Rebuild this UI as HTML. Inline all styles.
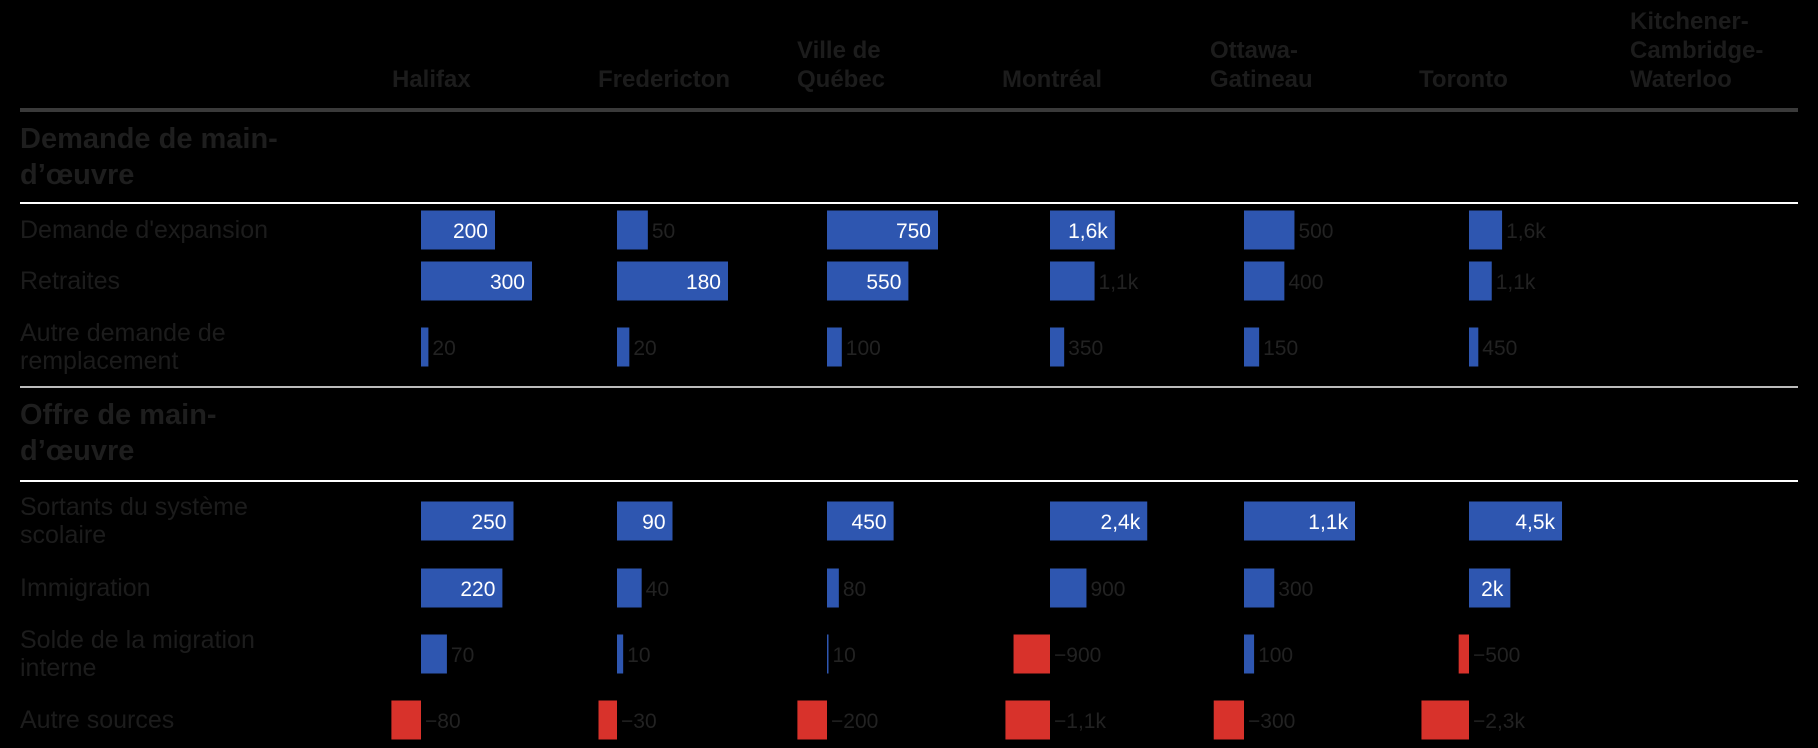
<!DOCTYPE html>
<html><head><meta charset="utf-8"><style>
html,body{margin:0;padding:0;background:#000;}
svg{display:block;font-family:"Liberation Sans Narrow","Liberation Sans",sans-serif;}
</style></head><body>
<svg id="chart" width="1818" height="748" viewBox="0 0 1818 748" xmlns="http://www.w3.org/2000/svg">
<rect width="1818" height="748" fill="#000"/>
</svg>
<script>
const cities = ["Halifax","Fredericton","Ville de|Québec","Montréal","Ottawa-|Gatineau","Toronto","Kitchener-|Cambridge-|Waterloo"];
const rowLabels = ["Demande d'expansion","Retraites","Autre demande de|remplacement","Sortants du système|scolaire","Immigration","Solde de la migration|interne","Autre sources"];
const halifaxValues = [200,300,20,250,220,70,-80];
const frederictonValues = [50,180,20,90,40,10,-30];
const quebecValues = [750,550,100,450,80,10,-200];
const montrealValues = [1600,1100,350,2400,900,-900,-1100];
const ottawaValues = [500,400,150,1100,300,100,-300];
const torontoValues = [1600,1100,450,4500,2000,-500,-2300];
const halifaxLabels = ["200","300","20","250","220","70","−80"];
const frederictonLabels = ["50","180","20","90","40","10","−30"];
const quebecLabels = ["750","550","100","450","80","10","−200"];
const montrealLabels = ["1,6k","1,1k","350","2,4k","900","−900","−1,1k"];
const ottawaLabels = ["500","400","150","1,1k","300","100","−300"];
const torontoLabels = ["1,6k","1,1k","450","4,5k","2k","−500","−2,3k"];
const domainMax = [300,180,750,2740,1100,5370];

const svg = document.getElementById('chart');
const NS = "http://www.w3.org/2000/svg";
function mk(tag, attrs){const e=document.createElementNS(NS,tag);for(const k in attrs)e.setAttribute(k,attrs[k]);svg.appendChild(e);return e;}

const headerX = [392,598,797,1002,1210,1419,1630];
const zeroX = [421,617,827,1050,1244,1469];
const rowY = [230,281,347,521,588,654,720];
const BAR_W = 111, BAR_H = 39;
function xScale(col, v){return v/domainMax[col]*BAR_W;}

cities.forEach((c,i)=>{
  const lines=c.split('|');
  const t=mk('text',{x:headerX[i],y:87-(lines.length-1)*29,fill:'#1c1c1c','font-size':24,'font-weight':'bold'});
  
  
  lines.forEach((l,j)=>{const s=document.createElementNS(NS,'tspan');s.setAttribute('x',headerX[i]);if(j>0)s.setAttribute('dy',29);s.textContent=l;t.appendChild(s);});
});

const hr=mk('rect',{x:20,y:108,width:1778,height:4,fill:'#3a3a3a'});

const l1=mk('rect',{x:20,y:202,width:1778,height:2,fill:'#fff'});

const l2=mk('rect',{x:20,y:386,width:1778,height:2,fill:'#bbb'});

const l3=mk('rect',{x:20,y:480,width:1778,height:2,fill:'#fff'});


[["Demande de main-","d’œuvre",148,"demand-section-title"],["Offre de main-","d’œuvre",424,"supply-section-title"]].forEach(s=>{
  const t=mk('text',{x:20,y:s[2],fill:'#1e1e1e','font-size':29,'font-weight':'bold'});
  
  const a=document.createElementNS(NS,'tspan');a.setAttribute('x',20);a.textContent=s[0];t.appendChild(a);
  const b=document.createElementNS(NS,'tspan');b.setAttribute('x',20);b.setAttribute('dy',36);b.textContent=s[1];t.appendChild(b);
});

rowLabels.forEach((r,i)=>{
  const lines=r.split('|');
  const t=mk('text',{x:20,y:rowY[i]+8-(lines.length-1)*14,fill:'#1c1c1c','font-size':25});
  
  lines.forEach((l,j)=>{const s=document.createElementNS(NS,'tspan');s.setAttribute('x',20);if(j>0)s.setAttribute('dy',28);s.textContent=l;t.appendChild(s);});
});

function textW(s){let w=0;for(const ch of s){w+= (ch===','?5:(ch==='−'?11:(ch==='k'?10:11)));}return w;}

const allValues=[halifaxValues,frederictonValues,quebecValues,montrealValues,ottawaValues,torontoValues];
const allLabels=[halifaxLabels,frederictonLabels,quebecLabels,montrealLabels,ottawaLabels,torontoLabels];
allValues.forEach((vals,c)=>{
  vals.forEach((v,r)=>{
    const w=Math.abs(xScale(c,v));
    const x=v>=0?zeroX[c]:zeroX[c]-w;
    const b=mk('rect',{x:x,y:rowY[r]-BAR_H/2,width:Math.max(w,1.5),height:BAR_H,fill:v>=0?'#2e56b0':'#d8322b'});
    
    
    const lab=allLabels[c][r];
    const inside=v>0 && textW(lab)+20<w;
    const t=mk('text',inside?{x:zeroX[c]+w-7,y:rowY[r]+8,fill:'#fff','font-size':21,'text-anchor':'end'}:{x:(v>=0?zeroX[c]+w:zeroX[c])+4,y:rowY[r]+8,fill:'#222','font-size':21});
    
    
    t.textContent=lab;
  });
});
</script>
</body></html>
